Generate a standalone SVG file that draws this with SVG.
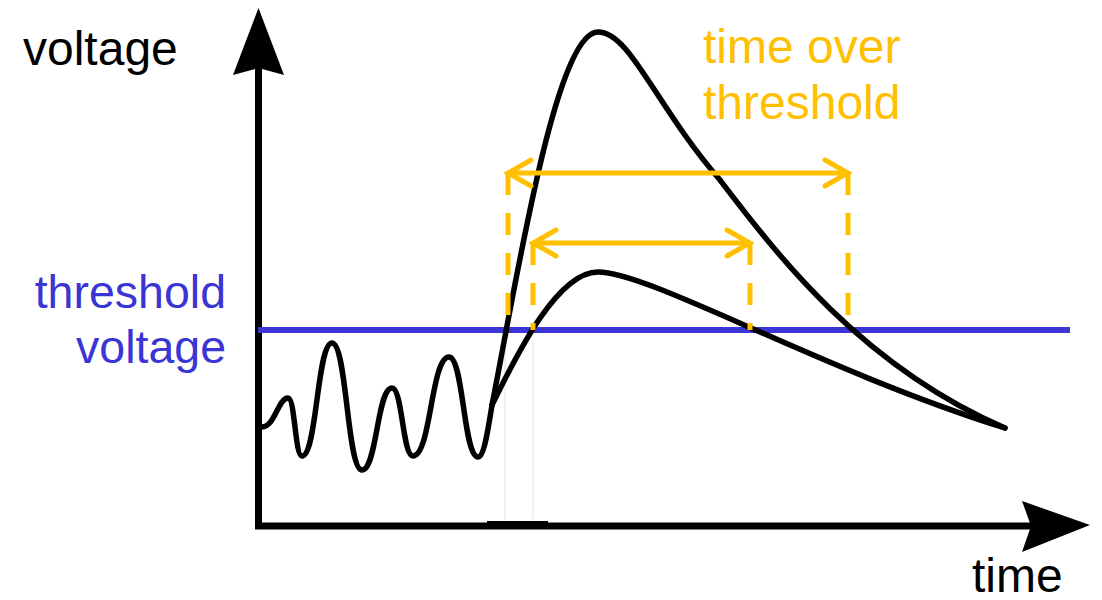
<svg xmlns="http://www.w3.org/2000/svg" width="1102" height="600" viewBox="0 0 1102 600">
  <style>
    .lbl { font-family: "Liberation Sans", Arial, sans-serif; font-size: 48px; }
    .blue { font-size: 46.5px; fill: #3a35d4; }
    .axis { stroke: #000; stroke-width: 7; fill: none; }
    .wave { stroke: #000; stroke-width: 5.5; fill: none; stroke-linecap: round; stroke-linejoin: round; }
    .tot { stroke: #FFC000; stroke-width: 5; fill: none; }
    .dash { stroke: #FFC000; stroke-width: 5; fill: none; stroke-dasharray: 22 18; }
    .ghost { stroke: #ececec; stroke-width: 1.5; fill: none; }
  </style>
  <defs>
    <marker id="chev" viewBox="-30 -20 34 40" refX="0" refY="0" markerUnits="userSpaceOnUse" markerWidth="34" markerHeight="40" orient="auto-start-reverse">
      <path d="M -23,-13 L 0,0 L -23,13" fill="none" stroke="#FFC000" stroke-width="5" stroke-linecap="round" stroke-linejoin="miter"/>
    </marker>
  </defs>
  <rect width="1102" height="600" fill="#fff"/>

  <g id="axes">
    <line class="ghost" x1="505" y1="340" x2="505" y2="520"/>
    <line class="ghost" x1="533" y1="340" x2="533" y2="519"/>
    <line class="axis" x1="258.5" y1="68" x2="258.5" y2="529"/>
    <line class="axis" x1="255" y1="526" x2="1032" y2="526"/>
    <rect x="487" y="521" width="61" height="4" fill="#000"/>
    <polygon points="258.5,8 233,75 258.5,68 284,75" fill="#000"/>
    <polygon points="1090,525 1022,501 1031,526 1022,552" fill="#000"/>
  </g>

  <g id="threshold-line">
    <line x1="258" y1="330" x2="1070" y2="330" stroke="#3a35d4" stroke-width="6"/>
  </g>

  <g id="signals">
    <path class="wave" d="M262,427 C275,427 278,398 288,398 C295,398 295,456 302,456 C317,456 317,343 332,343 C347,343 347,470 362,470 C377,470 377,388 392,388 C402.5,388 402.5,456 413,456 C431,456 431,357 449,357 C463.5,357 463.5,457 478,457 C484,457 488,430 492,405"/>
    <path class="wave" d="M492,405 C515,290 555,32 598,32 C630,32 655,105 720,180 C775,252 860,365 1005,428"/>
    <path class="wave" d="M492,405 C512,365 555,272 598,272 C650,272 820,370 1005,428"/>
  </g>

  <g id="connectors">
    <line class="dash" x1="508" y1="173" x2="508" y2="330"/>
    <line class="dash" x1="848" y1="173" x2="848" y2="330"/>
    <line class="dash" x1="533" y1="243" x2="533" y2="330"/>
    <line class="dash" x1="750" y1="243" x2="750" y2="330"/>
    <line class="tot" x1="508" y1="173" x2="848" y2="173" marker-start="url(#chev)" marker-end="url(#chev)"/>
    <line class="tot" x1="533" y1="243" x2="750" y2="243" marker-start="url(#chev)" marker-end="url(#chev)"/>
  </g>

  <g id="label-voltage">
    <text class="lbl" x="23" y="65" fill="#000">voltage</text>
  </g>
  <g id="label-time">
    <text class="lbl" x="972" y="592" fill="#000">time</text>
  </g>
  <g id="label-tot">
    <text class="lbl" x="703" y="63" fill="#FFC000">time over</text>
    <text class="lbl" x="703" y="119" fill="#FFC000">threshold</text>
  </g>
  <g id="label-threshold">
    <text class="lbl blue" x="226" y="308" text-anchor="end">threshold</text>
    <text class="lbl blue" x="226" y="363" text-anchor="end">voltage</text>
  </g>
</svg>
